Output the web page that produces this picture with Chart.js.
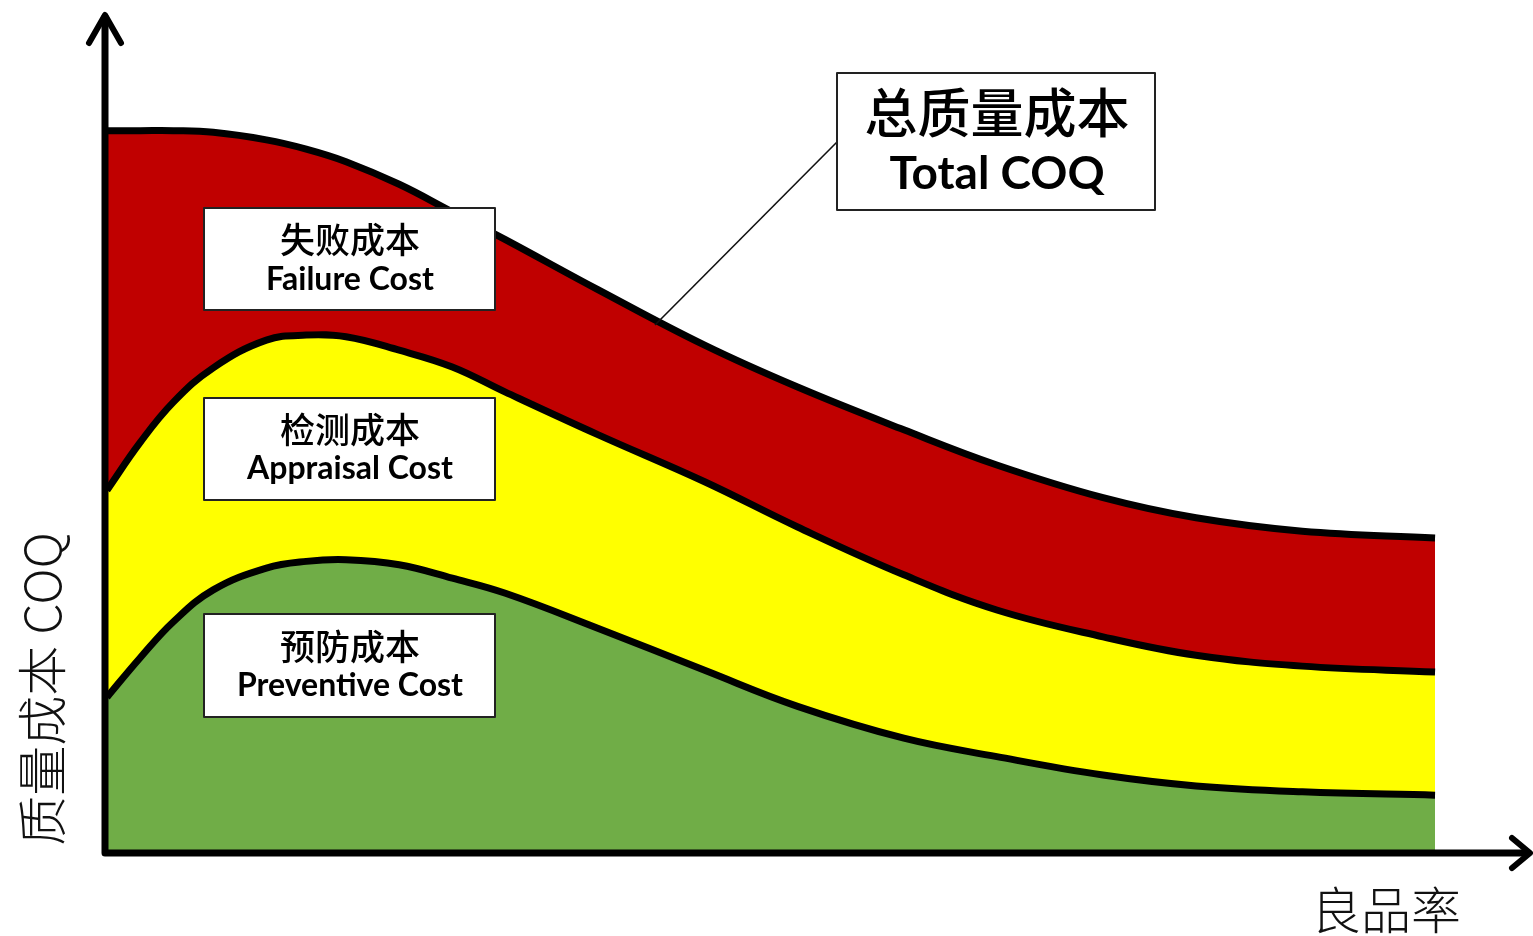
<!DOCTYPE html>
<html>
<head>
<meta charset="utf-8">
<script src="https://cdn.jsdelivr.net/npm/chart.js@4.4.1/dist/chart.umd.min.js"></script>
<style>
html,body{margin:0;padding:0;background:#fff;}
canvas{display:block;}
</style>
</head>
<body>
<canvas id="c" width="1533" height="936"></canvas>
<script>
// 良品率 levels (x, 0..100 across the curve span)
const xLevels    = [0, 2.5, 5, 8, 12, 15, 18, 22, 26, 30, 37, 45, 52, 60, 67, 75, 82, 90, 100];
// 预防成本 Preventive Cost
const preventive = [18.6, 23.3, 27.6, 31.4, 34.0, 34.8, 35.0, 34.4, 32.8, 31.0, 26.8, 21.8, 17.5, 13.7, 11.5, 9.3, 8.0, 7.3, 6.9];
// 检测成本 Appraisal Cost
const appraisal  = [24.7, 25.7, 26.2, 26.5, 27.2, 27.0, 26.6, 25.6, 25.2, 24.0, 23.1, 22.5, 21.4, 19.5, 17.5, 16.5, 15.6, 15.0, 14.7];
// 失败成本 Failure Cost
const failure    = [42.9, 37.2, 32.4, 28.1, 23.9, 22.2, 20.9, 19.8, 18.5, 18.2, 17.3, 16.3, 16.7, 17.3, 17.3, 16.6, 16.4, 16.1, 16.0];

const labels = {
  failure:   ['失败成本', 'Failure Cost'],
  appraisal: ['检测成本', 'Appraisal Cost'],
  preventive:['预防成本', 'Preventive Cost'],
  total:     ['总质量成本', 'Total COQ'],
  yTitle: '质量成本 COQ',
  xTitle: '良品率'
};

const pts = arr => arr.map((v, i) => ({x: xLevels[i], y: v}));

const CJK = '"Noto Sans CJK SC", "Noto Sans", sans-serif';
const LAT = 'Lato, "Open Sans", sans-serif';

function box(ctx, x, y, w, h, lw) {
  ctx.save();
  ctx.fillStyle = '#fff';
  ctx.fillRect(x, y, w, h);
  ctx.lineWidth = lw;
  ctx.strokeStyle = '#222';
  ctx.strokeRect(x, y, w, h);
  ctx.restore();
}

const decor = {
  id: 'decor',
  afterDraw(chart) {
    const ctx = chart.ctx;
    const a = chart.chartArea;
    ctx.save();
    // axes
    ctx.strokeStyle = '#000';
    ctx.lineCap = 'round';
    ctx.lineJoin = 'round';
    ctx.lineWidth = 7;
    const ox = a.left - 2, oy = a.bottom;
    ctx.beginPath();
    ctx.moveTo(ox, oy);
    ctx.lineTo(ox, a.top + 2);
    ctx.moveTo(ox, oy);
    ctx.lineTo(a.right - 4, oy);
    ctx.stroke();
    // arrow heads
    ctx.lineWidth = 6;
    ctx.beginPath();
    ctx.moveTo(ox - 16, a.top + 28);
    ctx.lineTo(ox, a.top);
    ctx.lineTo(ox + 16, a.top + 28);
    ctx.moveTo(a.right - 18, oy - 15);
    ctx.lineTo(a.right, oy);
    ctx.lineTo(a.right - 18, oy + 15);
    ctx.stroke();

    // callout line
    ctx.lineCap = 'butt';
    ctx.lineWidth = 1.6;
    ctx.strokeStyle = '#111';
    ctx.beginPath();
    ctx.moveTo(837, 142);
    ctx.lineTo(655, 325);
    ctx.stroke();

    // boxes
    box(ctx, 204, 208, 291, 102, 2);
    box(ctx, 204, 398, 291, 102, 2);
    box(ctx, 204, 614, 291, 103, 2);
    box(ctx, 837, 73, 318, 137, 2);

    ctx.fillStyle = '#000';
    ctx.textAlign = 'center';
    ctx.textBaseline = 'middle';
    const two = (lines, cx, y1, y2, f1, f2) => {
      ctx.font = f1;
      ctx.fillText(lines[0], cx, y1);
      ctx.font = f2;
      ctx.fillText(lines[1], cx, y2);
    };
    two(labels.failure, 350, 240, 280, '500 35px ' + CJK, 'bold 32px ' + LAT);
    two(labels.appraisal, 350, 430, 469, '500 35px ' + CJK, 'bold 32px ' + LAT);
    two(labels.preventive, 350, 647, 686, '500 35px ' + CJK, 'bold 32px ' + LAT);
    two(labels.total, 997, 113, 174, '500 53px ' + CJK, 'bold 46px ' + LAT);

    // axis titles
    ctx.font = '300 50px ' + CJK;
    ctx.fillStyle = '#111';
    ctx.fillText(labels.xTitle, 1386, 910);
    ctx.translate(42, 689);
    ctx.rotate(-Math.PI / 2);
    ctx.fillText(labels.yTitle, 0, 0);
    ctx.restore();
  }
};

const common = {
  pointRadius: 0,
  borderColor: '#000',
  borderWidth: 7,
  tension: 0.4,
  borderCapStyle: 'butt'
};

new Chart(document.getElementById('c'), {
  type: 'line',
  data: {
    datasets: [
      Object.assign({label: labels.preventive[1], data: pts(preventive), backgroundColor: '#70AD47', fill: 'origin'}, common),
      Object.assign({label: labels.appraisal[1], data: pts(appraisal), backgroundColor: '#FFFF00', fill: '-1'}, common),
      Object.assign({label: labels.failure[1], data: pts(failure), backgroundColor: '#C00000', fill: '-1'}, common)
    ]
  },
  options: {
    responsive: false,
    animation: false,
    devicePixelRatio: 1,
    layout: {padding: {left: 107, right: 3, top: 15, bottom: 83}},
    plugins: {legend: {display: false}, tooltip: {enabled: false}},
    scales: {
      x: {type: 'linear', display: false, min: 0, max: 107.15},
      y: {display: false, stacked: true, min: 0, max: 100}
    }
  },
  plugins: [decor]
});
</script>
</body>
</html>
